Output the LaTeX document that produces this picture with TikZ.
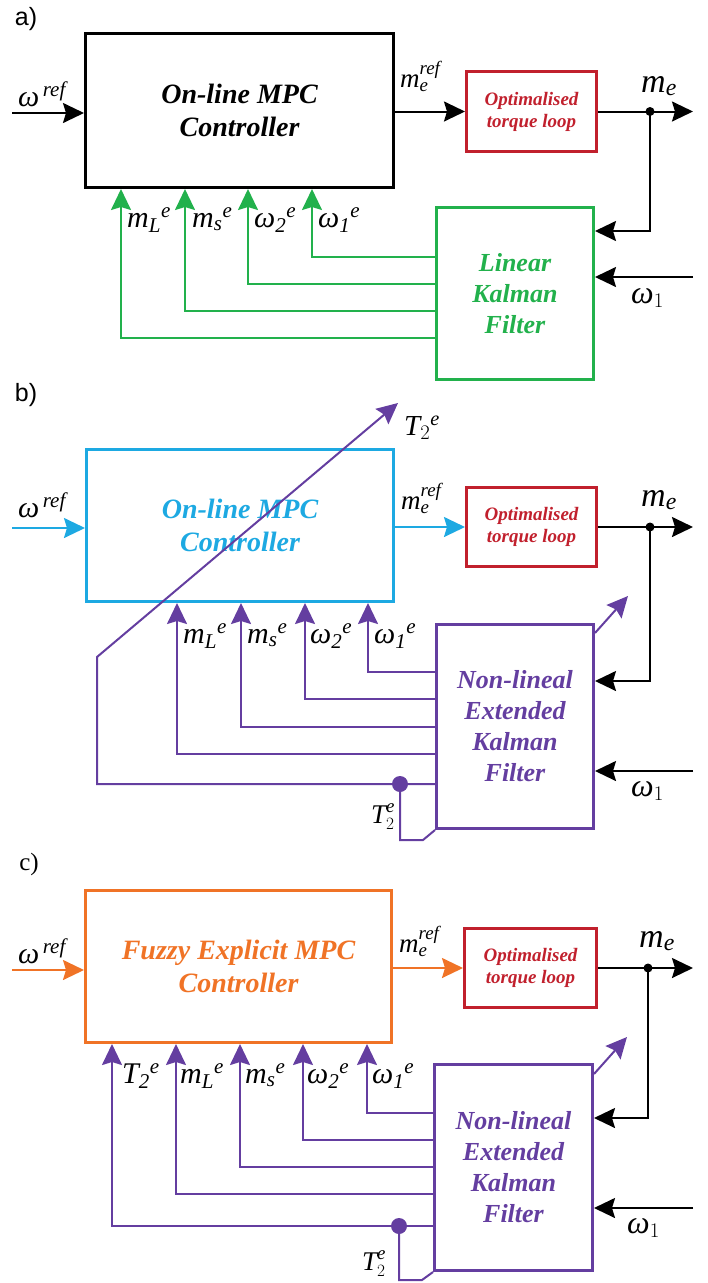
\documentclass[tikz,border=0pt]{standalone}
\usepackage{fontspec}
\usepackage{amsmath}
\setmainfont{Liberation Serif}
\newfontfamily\tagsans{Liberation Sans}
\usetikzlibrary{arrows.meta}

\definecolor{kfgreen}{RGB}{34,177,76}
\definecolor{mpcblue}{RGB}{29,169,226}
\definecolor{loopred}{RGB}{193,32,45}
\definecolor{ekfpurple}{RGB}{100,62,160}
\definecolor{fuzzyorange}{RGB}{240,115,38}

\newcommand{\ti}[1]{\textit{#1}}

\tikzset{
  blockbox/.style={draw, line width=3pt, inner sep=0pt, align=center},
  mpctext/.style={font=\fontsize{28}{33}\selectfont\bfseries\itshape},
  looptext/.style={font=\fontsize{19}{22}\selectfont\bfseries\itshape, text=loopred},
  kftext/.style={font=\fontsize{26}{31}\selectfont\bfseries\itshape},
  wire/.style={line width=2pt},
  sig/.style={line width=2pt, -{Stealth[length=21pt,width=20pt,inset=3pt]}},
  lbl/.style={inner sep=0pt, font=\fontsize{30}{32}\selectfont},
  smalllbl/.style={inner sep=0pt, font=\fontsize{27}{29}\selectfont},
  tag/.style={inner sep=0pt, font=\fontsize{25}{27}\selectfont},
  jdot/.style={circle, fill, inner sep=0pt, minimum size=#1}
}

\begin{document}
\begin{tikzpicture}[x=1pt, y=-1pt]
  \useasboundingbox (0,0) rectangle (708,1283);

  % ---------------- a) ----------------
  \node[tag] (tagA) at (26,19) {\tagsans a)};

  % Blocks
  \node[blockbox, mpctext, draw=black, minimum width=308pt, minimum height=154pt]
    (mpcA) at (239.5,110.5) {On-line MPC\\Controller};
  \node[blockbox, looptext, draw=loopred, minimum width=130pt, minimum height=80pt]
    (torqA) at (531.5,111.5) {Optimalised\\torque loop};
  \node[blockbox, kftext, draw=kfgreen, text=kfgreen, minimum width=157pt, minimum height=172pt]
    (kfA) at (515,293.5) {Linear\\Kalman\\Filter};

  % Inputs and outputs
  \coordinate (inA) at (12,113);
  \draw[sig] (inA) -- (mpcA.west |- inA);
  \node[lbl, anchor=base west] (wrefA) at (18,106) {$\ti{ω}^{\,\ti{ref}}$};
  \draw[sig] (mpcA.east |- torqA.west) -- (torqA.west);
  \node[lbl, anchor=base west, font=\fontsize{27}{29}\selectfont] (mrefA) at (400,87)
    {$\ti{m}_{\ti{e}}^{\ti{ref}}$};
  \coordinate (outA) at (693,111.5);
  \coordinate (dotA) at (650,111.5);
  \draw[sig] (torqA.east) -- (outA);
  \node[jdot=9pt] at (dotA) {};
  \node[lbl, anchor=base west, font=\fontsize{34}{36}\selectfont] (meA) at (641,92) {$\ti{m}_{\ti{e}}$};
  \draw[sig] (dotA) |- (kfA.east |- 0,231);
  \coordinate (w1inA) at (693,277);
  \draw[sig] (w1inA) -- (kfA.east |- w1inA);
  \node[lbl, anchor=base west, font=\fontsize{32}{34}\selectfont] (w1A) at (631,303) {$\ti{ω}_{1}$};

  % Estimated states
  \draw[sig, kfgreen] (kfA.west |- 0,257) -| (mpcA.south -| 312,0);
  \draw[sig, kfgreen] (kfA.west |- 0,284) -| (mpcA.south -| 248,0);
  \draw[sig, kfgreen] (kfA.west |- 0,311) -| (mpcA.south -| 185,0);
  \draw[sig, kfgreen] (kfA.west |- 0,338) -| (mpcA.south -| 121,0);
  \node[lbl, anchor=base west] (mLA) at (127,227) {$\ti{m}_{\ti{L}}{}^{\ti{e}}$};
  \node[lbl, anchor=base west] (msA) at (192,227) {$\ti{m}_{\ti{s}}{}^{\ti{e}}$};
  \node[lbl, anchor=base west] (w2A) at (254,227) {$\ti{ω}_{\ti{2}}{}^{\ti{e}}$};
  \node[lbl, anchor=base west] (w1eA) at (318,227) {$\ti{ω}_{\ti{1}}{}^{\ti{e}}$};

  % ---------------- b) ----------------
  \node[tag] (tagB) at (26,395) {\tagsans b)};

  % Blocks
  \node[blockbox, mpctext, draw=mpcblue, text=mpcblue, minimum width=307pt, minimum height=152pt]
    (mpcB) at (240,525.5) {On-line MPC\\Controller};
  \node[blockbox, looptext, draw=loopred, minimum width=130pt, minimum height=79pt]
    (torqB) at (531.5,527) {Optimalised\\torque loop};
  \node[blockbox, kftext, draw=ekfpurple, text=ekfpurple, minimum width=157pt, minimum height=204pt]
    (kfB) at (515,726.5) {Non-lineal\\Extended\\Kalman\\Filter};

  % Inputs and outputs
  \coordinate (inB) at (12,528);
  \draw[sig, mpcblue] (inB) -- (mpcB.west |- inB);
  \node[lbl, anchor=base west] (wrefB) at (18,517) {$\ti{ω}^{\,\ti{ref}}$};
  \draw[sig, mpcblue] (mpcB.east |- torqB.west) -- (torqB.west);
  \node[lbl, anchor=base west, font=\fontsize{27}{29}\selectfont] (mrefB) at (401,509)
    {$\ti{m}_{\ti{e}}^{\ti{ref}}$};
  \coordinate (outB) at (693,527);
  \coordinate (dotB) at (650,527);
  \draw[sig] (torqB.east) -- (outB);
  \node[jdot=9pt] at (dotB) {};
  \node[lbl, anchor=base west, font=\fontsize{34}{36}\selectfont] (meB) at (641,506) {$\ti{m}_{\ti{e}}$};
  \draw[sig] (dotB) |- (kfB.east |- 0,681);
  \coordinate (w1inB) at (693,771);
  \draw[sig] (w1inB) -- (kfB.east |- w1inB);
  \node[lbl, anchor=base west, font=\fontsize{32}{34}\selectfont] (w1B) at (631,796) {$\ti{ω}_{1}$};
  \draw[sig, ekfpurple] (kfB.east |- 0,633) -- ++(33,-37);

  % Estimated states
  \draw[sig, ekfpurple] (kfB.west |- 0,672) -| (mpcB.south -| 368,0);
  \draw[sig, ekfpurple] (kfB.west |- 0,699) -| (mpcB.south -| 305,0);
  \draw[sig, ekfpurple] (kfB.west |- 0,727) -| (mpcB.south -| 241,0);
  \draw[sig, ekfpurple] (kfB.west |- 0,754) -| (mpcB.south -| 177,0);
  \node[lbl, anchor=base west] (mLB) at (183,643) {$\ti{m}_{\ti{L}}{}^{\ti{e}}$};
  \node[lbl, anchor=base west] (msB) at (247,643) {$\ti{m}_{\ti{s}}{}^{\ti{e}}$};
  \node[lbl, anchor=base west] (w2B) at (310,643) {$\ti{ω}_{\ti{2}}{}^{\ti{e}}$};
  \node[lbl, anchor=base west] (w1eB) at (374,643) {$\ti{ω}_{\ti{1}}{}^{\ti{e}}$};

  % Estimated load torque
  \coordinate (dotTB) at (400,784);
  \coordinate (tipB) at (398,403);
  \draw[sig, ekfpurple] (kfB.west |- dotTB) -| (97,657) -- (tipB);
  \node[jdot=16pt, ekfpurple] at (dotTB) {};
  \node[lbl, anchor=base west, font=\fontsize{29}{31}\selectfont] (t2topB) at (404,435)
    {$\ti{T}_{2}{}^{\ti{e}}$};
  \draw[wire, ekfpurple] (dotTB) |- (423,840) -- (kfB.south west);
  \node[smalllbl, anchor=base west] (t2B) at (371,823) {$\ti{T}_{2}^{\ti{e}}$};

  % ---------------- c) ----------------
  \node[tag] (tagC) at (29,864) {c)};

  % Blocks
  \node[blockbox, mpctext, draw=fuzzyorange, text=fuzzyorange, minimum width=306pt, minimum height=152pt]
    (mpcC) at (238.5,966.5) {Fuzzy Explicit MPC\\Controller};
  \node[blockbox, looptext, draw=loopred, minimum width=132pt, minimum height=79pt]
    (torqC) at (530.5,968) {Optimalised\\torque loop};
  \node[blockbox, kftext, draw=ekfpurple, text=ekfpurple, minimum width=158pt, minimum height=206pt]
    (kfC) at (513.5,1167.5) {Non-lineal\\Extended\\Kalman\\Filter};

  % Inputs and outputs
  \coordinate (inC) at (12,970);
  \draw[sig, fuzzyorange] (inC) -- (mpcC.west |- inC);
  \node[lbl, anchor=base west] (wrefC) at (18,963) {$\ti{ω}^{\,\ti{ref}}$};
  \draw[sig, fuzzyorange] (mpcC.east |- torqC.west) -- (torqC.west);
  \node[lbl, anchor=base west, font=\fontsize{27}{29}\selectfont] (mrefC) at (399,952)
    {$\ti{m}_{\ti{e}}^{\ti{ref}}$};
  \coordinate (outC) at (693,968);
  \coordinate (dotC) at (648,968);
  \draw[sig] (torqC.east) -- (outC);
  \node[jdot=9pt] at (dotC) {};
  \node[lbl, anchor=base west, font=\fontsize{34}{36}\selectfont] (meC) at (639,947) {$\ti{m}_{\ti{e}}$};
  \draw[sig] (dotC) |- (kfC.east |- 0,1118);
  \coordinate (w1inC) at (693,1208);
  \draw[sig] (w1inC) -- (kfC.east |- w1inC);
  \node[lbl, anchor=base west, font=\fontsize{32}{34}\selectfont] (w1C) at (627,1233) {$\ti{ω}_{1}$};
  \draw[sig, ekfpurple] (kfC.east |- 0,1074) -- ++(33,-37);

  % Estimated states
  \draw[sig, ekfpurple] (kfC.west |- 0,1113) -| (mpcC.south -| 367,0);
  \draw[sig, ekfpurple] (kfC.west |- 0,1140) -| (mpcC.south -| 303,0);
  \draw[sig, ekfpurple] (kfC.west |- 0,1167) -| (mpcC.south -| 240,0);
  \draw[sig, ekfpurple] (kfC.west |- 0,1194) -| (mpcC.south -| 176,0);
  \coordinate (dotTC) at (399,1226);
  \draw[sig, ekfpurple] (kfC.west |- dotTC) -| (mpcC.south -| 112,0);
  \node[jdot=16pt, ekfpurple] at (dotTC) {};
  \node[lbl, anchor=base west] (t2C) at (122,1083) {$\ti{T}_{\ti{2}}{}^{\ti{e}}$};
  \node[lbl, anchor=base west] (mLC) at (180,1083) {$\ti{m}_{\ti{L}}{}^{\ti{e}}$};
  \node[lbl, anchor=base west] (msC) at (245,1083) {$\ti{m}_{\ti{s}}{}^{\ti{e}}$};
  \node[lbl, anchor=base west] (w2C) at (307,1083) {$\ti{ω}_{\ti{2}}{}^{\ti{e}}$};
  \node[lbl, anchor=base west] (w1eC) at (372,1083) {$\ti{ω}_{\ti{1}}{}^{\ti{e}}$};

  % Estimated load torque loop
  \draw[wire, ekfpurple] (dotTC) |- (422,1280) -- (kfC.south west);
  \node[smalllbl, anchor=base west] (t2loopC) at (362,1270) {$\ti{T}_{2}^{\ti{e}}$};
\end{tikzpicture}
\end{document}
